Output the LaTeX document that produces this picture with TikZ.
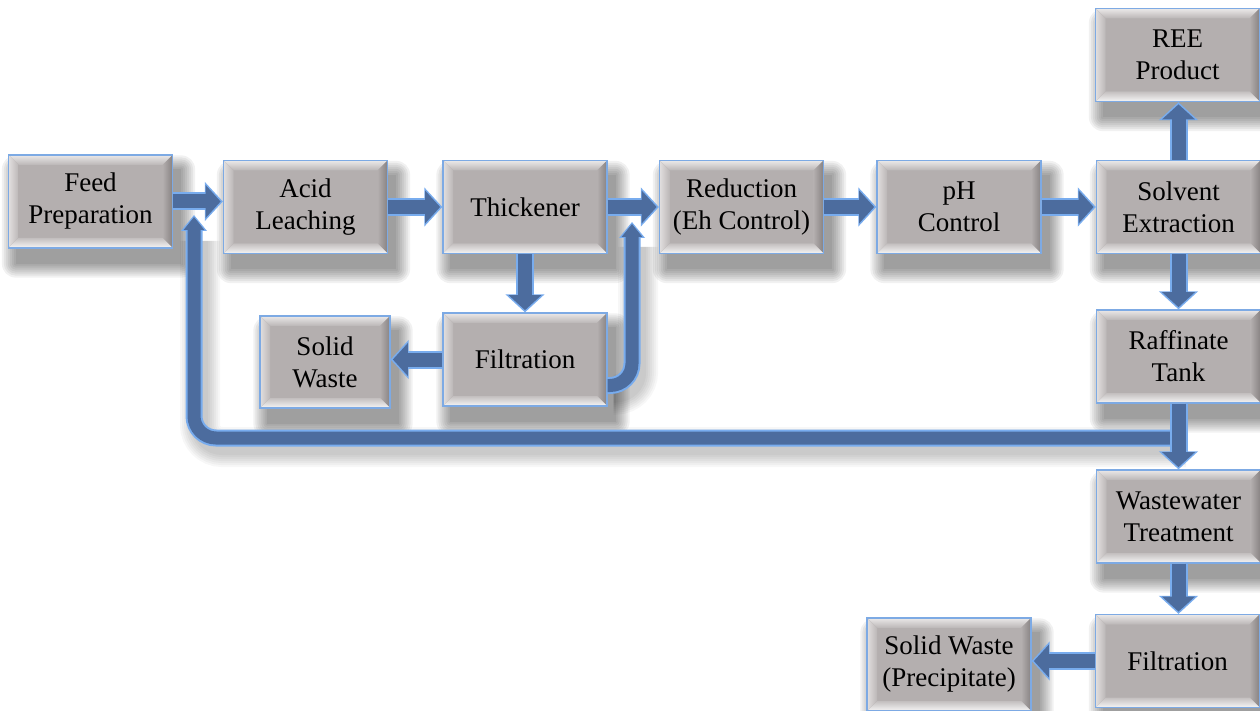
\documentclass[tikz,border=0pt]{standalone}
\usepackage{fontspec}
\setmainfont{Liberation Serif}
\usetikzlibrary{arrows.meta,calc}
\pgfdeclarelayer{bg}
\pgfsetlayers{bg,main}
\definecolor{face}{RGB}{180,175,175}
\definecolor{facelight}{RGB}{226,223,223}
\definecolor{facedark}{RGB}{135,130,130}
\definecolor{boxline}{RGB}{125,170,228}
\definecolor{arrowfill}{RGB}{76,108,158}
\definecolor{arrowline}{RGB}{120,172,238}
\tikzset{
  procbox/.style={draw=boxline, line width=1.3pt, fill=face,
    minimum width=164pt, minimum height=93pt, inner sep=0pt, align=center,
    font=\fontsize{27}{32}\selectfont, text=black,
    path picture={
      \coordinate (bvNW) at (path picture bounding box.north west);
      \coordinate (bvNE) at (path picture bounding box.north east);
      \coordinate (bvSW) at (path picture bounding box.south west);
      \coordinate (bvSE) at (path picture bounding box.south east);
      \fill[top color=facelight!70!white, bottom color=face!92!white]
        (bvNW) -- (bvNE) -- ([shift={(-10pt,-10pt)}]bvNE) -- ([shift={(10pt,-10pt)}]bvNW) -- cycle;
      \fill[left color=facelight, right color=face!90!white]
        (bvNW) -- ([shift={(10pt,-10pt)}]bvNW) -- ([shift={(10pt,10pt)}]bvSW) -- (bvSW) -- cycle;
      \fill[left color=face, right color=facedark]
        (bvNE) -- (bvSE) -- ([shift={(-10pt,10pt)}]bvSE) -- ([shift={(-10pt,-10pt)}]bvNE) -- cycle;
      \fill[top color=face!80!white, bottom color=white!88!face]
        (bvSW) -- (bvSE) -- ([shift={(-10pt,10pt)}]bvSE) -- ([shift={(10pt,10pt)}]bvSW) -- cycle;
    }},
  softlayer/.style={fill=black, opacity=0.055},
  flow/.style={draw=arrowfill, line width=14pt, -{Triangle[width=32pt,length=15pt]}, shorten >=2.2pt,
    preaction={draw=arrowline, line width=18pt, -{Triangle[width=38pt,length=18pt]}, shorten >=0pt}},
  loopflow/.style={draw=arrowfill, line width=13pt, rounded corners=22pt, -{Triangle[width=20pt,length=13pt]}, shorten >=2pt,
    preaction={draw=arrowline, line width=17pt, rounded corners=22pt, -{Triangle[width=25pt,length=16pt]}, shorten >=0pt}},
  loopshadow/.style={draw=black, draw opacity=0.03, rounded corners=22pt},
}
\newcommand{\softshadow}[1]{%
  \begin{pgfonlayer}{bg}
  \foreach \e in {0,2,...,14}{%
    \path[softlayer, rounded corners=\e*1pt]
      ([xshift=8pt-\e*1pt, yshift=-15pt-\e*1pt]#1.south west) rectangle
      ([xshift=8pt+\e*1pt, yshift=-15pt+\e*1pt]#1.north east);
  }
  \end{pgfonlayer}}
\begin{document}
\begin{tikzpicture}[x=1pt,y=-1pt]
\useasboundingbox (0,0) rectangle (1260,711);
\begin{pgfonlayer}{bg}
\fill[white] (0,0) rectangle (1260,711);
\end{pgfonlayer}
% boxes
\node[procbox] (feed) at (90.5,201.5) {Feed\\Preparation};
\node[procbox] (acid) at (305.5,207) {Acid\\Leaching};
\node[procbox] (thick) at (525,207) {Thickener};
\node[procbox] (red) at (741.5,207) {Reduction\\(Eh Control)};
\node[procbox] (ph) at (959,207) {pH\\Control};
\node[procbox] (solv) at (1178.5,207) {Solvent\\Extraction};
\node[procbox] (ree) at (1177.5,55) {REE\\Product};
\node[procbox] (filt1) at (525,359.5) {Filtration};
\node[procbox, minimum width=130pt, minimum height=92pt] (solid1) at (325,362) {Solid\\Waste};
\node[procbox] (raff) at (1178.5,356.5) {Raffinate\\Tank};
\node[procbox] (waste) at (1178.5,516.5) {Wastewater\\Treatment};
\node[procbox] (filt2) at (1177.5,661) {Filtration};
\node[procbox] (solid2) at (949,664.5) {Solid Waste\\(Precipitate)};
\foreach \n in {feed,acid,thick,red,ph,solv,ree,filt1,solid1,raff,waste,filt2,solid2}{\softshadow{\n}}
% recycle loops
\coordinate (rstart) at (1180,438);
\coordinate (rend) at (194,232);
\coordinate (rtip) at (194,215);
\coordinate (fstart) at ([yshift=-26pt]filt1.east);
\coordinate (fend) at (632,238);
\coordinate (ftip) at (632,222);
\begin{pgfonlayer}{bg}
\foreach \w in {16,20,...,40}{%
  \draw[loopshadow, line width=\w*1pt, transform canvas={shift={(6pt,-9pt)}}] (rstart) -| (rend);
  \draw[loopshadow, line width=\w*1pt, transform canvas={shift={(6pt,-9pt)}}] (fstart) -| (fend);
}
\end{pgfonlayer}
\draw[loopflow] (rstart) -| (rtip);
\draw[loopflow] (fstart) -| (ftip);
% main flow
\draw[flow] (feed.east) -- (feed.east -| acid.west);
\draw[flow] (acid.east) -- (thick.west);
\draw[flow] (thick.east) -- (red.west);
\draw[flow] (red.east) -- (ph.west);
\draw[flow] (ph.east) -- (solv.west);
\draw[flow] (solv.north) -- (solv.north |- ree.south);
\draw[flow] (solv.south) -- (raff.north);
\draw[flow] (raff.south) -- (waste.north);
\draw[flow] (waste.south) -- (waste.south |- filt2.north);
\draw[flow] (filt2.west) -- (filt2.west -| solid2.east);
\draw[flow] (thick.south) -- (filt1.north);
\draw[flow] (filt1.west) -- (filt1.west -| solid1.east);
\end{tikzpicture}
\end{document}
